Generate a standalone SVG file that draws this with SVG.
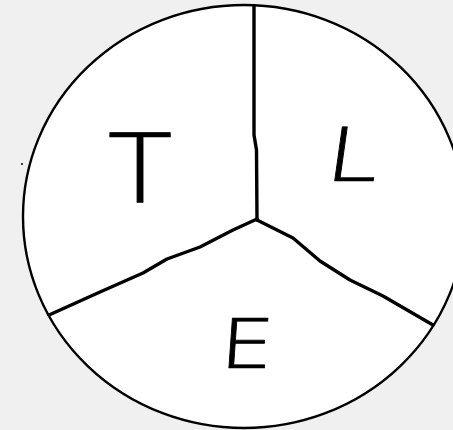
<svg xmlns="http://www.w3.org/2000/svg" width="453" height="430" viewBox="0 0 453 430">
<style>
.ln{fill:none;stroke:#000;stroke-linecap:round;stroke-linejoin:round}
.lbl{font-family:"Open Sans","Liberation Sans",sans-serif;font-weight:300;fill:#000;stroke:#000;stroke-width:0.7;stroke-linejoin:round;text-anchor:middle}
</style>
<rect width="453" height="430" fill="#f0f0f0"/>
<g id="outline">
<ellipse cx="244" cy="216.5" rx="221" ry="211.5" fill="#fff" stroke="#000" stroke-width="2.4"/>
<circle cx="22" cy="164" r="1" fill="#000"/>
</g>
<g id="dividers">
<path class="ln" stroke-width="3.4" d="M254,6 L254,135 L256.5,150 L257,220"/>
<path class="ln" stroke-width="3.4" d="M257,219 L233,230 L200,247 L167,259 L143,273 L100,292 L49,315"/>
<path class="ln" stroke-width="3.4" d="M257,220 L293,238 L320,261 L350,280 L383,296 L433,325"/>
</g>
<g id="label-T"><text class="lbl" font-size="98" transform="translate(140,202) scale(1.2,1)">T</text></g>
<g id="label-L"><text class="lbl" font-size="76" transform="translate(350,181) skewX(-8) scale(1.3,1)">L</text></g>
<g id="label-E"><text class="lbl" font-size="70" transform="translate(245,368) skewX(-4) scale(1.3,1)">E</text></g>
</svg>
